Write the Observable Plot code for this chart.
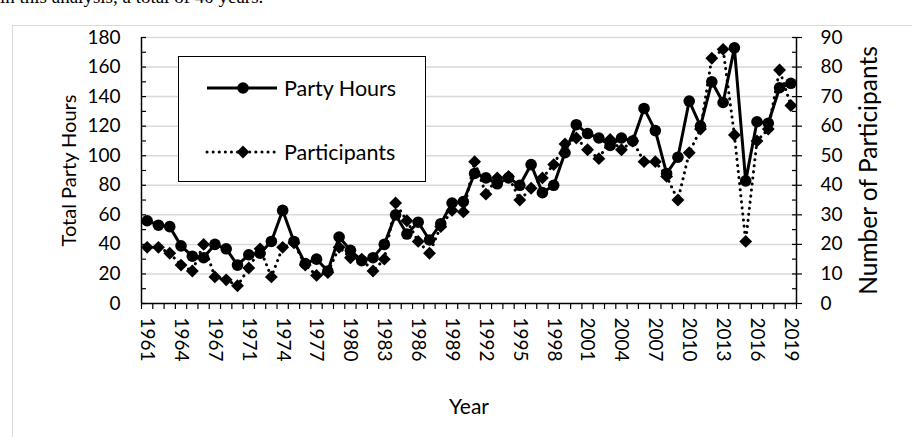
<!DOCTYPE html>
<html><head><meta charset="utf-8">
<script src="https://cdn.jsdelivr.net/npm/d3@7"></script>
<script src="https://cdn.jsdelivr.net/npm/@observablehq/plot@0.6"></script>
<style>
body{margin:0;background:#fff;width:912px;height:437px;overflow:hidden;position:relative;font-family:Lato,sans-serif;color:#000;}
#intro{position:absolute;left:0;top:-14px;font-family:"Liberation Serif",serif;font-size:19px;white-space:nowrap;color:#000;}
#frame{position:absolute;left:12px;top:25px;width:920px;height:440px;border:1.5px solid #d9d9d9;}
#chart{position:absolute;left:0;top:0;}
#legend{position:absolute;left:178px;top:56px;width:246px;height:124px;border:1.5px solid #000;background:#fff;}
#legend span{position:absolute;left:105px;font-size:21.5px;line-height:26px;white-space:nowrap;}
</style></head><body>
<div id="intro">in this analysis, a total of 40 years.</div>
<div id="frame"></div>
<div id="chart"></div>
<div id="legend">
  <svg width="110" height="124" style="position:absolute;left:0;top:0">
    <line x1="28" y1="31" x2="98" y2="31" stroke="#000" stroke-width="3"/>
    <circle cx="64" cy="31" r="5.8" fill="#000"/>
    <line x1="28" y1="95" x2="98" y2="95" stroke="#000" stroke-width="3" stroke-dasharray="0.1 6" stroke-linecap="round"/>
    <path d="M64,88.6L70.4,95L64,101.4L57.6,95Z" fill="#000"/>
  </svg>
  <span id="lg1" style="top:18px">Party Hours</span>
  <span id="lg2" style="top:82px">Participants</span>
</div>
<script>
const years = ["1961","1962","1963","1964","1965","1966","1967","1968","1970","1971","1972","1973","1974","1975","1976","1977","1978","1979","1980","1981","1982","1983","1984","1985","1986","1987","1988","1989","1990","1991","1992","1993","1994","1995","1996","1997","1998","1999","2000","2001","2002","2003","2004","2005","2006","2007","2008","2009","2010","2011","2012","2013","2014","2015","2016","2017","2018","2019"];
const partyHours = [56,53,52,39,32,31,40,37,26,33,34,42,63,42,27,30,22,45,36,29,31,40,60,47,55,43,54,68,69,88,85,81,85,80,94,75,80,102,121,115,112,107,112,110,132,117,88,99,137,120,150,136,173,83,123,122,146,149];
const participants = [19,19,17,13,11,20,9,8,6,12,18.5,9,19,20.5,13,9.5,10.5,19,15.5,15,11,15,34,28,21,17,26,31.5,31,48,37,42.5,43,35,39,42.5,47,54,56,52,49,55.5,52,55,48,48,43,35,51,59,83,86,57,21,55,59,79,67];
const leftTicks = [0,20,40,60,80,100,120,140,160,180];
const rightTicks = [0,10,20,30,40,50,60,70,80,90];
const ratio = 2; // left-axis units per participant

const data = years.map((year, i) => ({i, year, hours: partyHours[i], people: participants[i] * ratio}));
const n = years.length;
const labelIdx = d3.range(0, n, 3);
const bounds = d3.range(-0.5, n, 1);
const minorLeft = d3.range(10, 180, 20);

const chart = Plot.plot({
  width: 912, height: 437,
  marginLeft: 141, marginRight: 116, marginTop: 37, marginBottom: 134,
  style: {fontFamily: "Lato, sans-serif", fontSize: "19px", color: "#000", background: "transparent"},
  x: {type: "linear", domain: [-0.5, n - 0.5]},
  y: {domain: [0, 180]},
  marks: [
    Plot.gridY(leftTicks.filter(d => d > 0), {stroke: "#d9d9d9", strokeOpacity: 1, strokeWidth: 1.5}),
    // left axis: ticks inside, labels, title
    Plot.axisY(leftTicks.concat(minorLeft), {anchor: "left", tickSize: 5, dx: 5, tickFormat: () => "", label: null, strokeWidth: 1.2}),
    Plot.axisY(leftTicks, {anchor: "left", tickSize: 0, tickPadding: 21, fontSize: 19, label: null}),
    Plot.axisY(leftTicks, {anchor: "left", tickSize: 0, tickFormat: () => "", fontSize: 20, label: "Total Party Hours", labelAnchor: "center", labelOffset: 80, labelArrow: "none"}),
    // right axis: major ticks cross, minor inside
    Plot.axisY(leftTicks, {anchor: "right", tickSize: 10, dx: -5, tickFormat: () => "", label: null, strokeWidth: 1.2}),
    Plot.axisY(minorLeft, {anchor: "right", tickSize: 5, dx: -5, tickFormat: () => "", label: null, strokeWidth: 1.2}),
    Plot.axisY(rightTicks.map(d => d * ratio), {anchor: "right", tickSize: 0, tickPadding: 24, tickFormat: d => d / ratio, fontSize: 19, label: null}),
    Plot.axisY(rightTicks.map(d => d * ratio), {anchor: "right", tickSize: 0, tickFormat: () => "", fontSize: 24.5, label: "Number of Participants", labelAnchor: "center", labelOffset: 80, labelArrow: "none"}),
    // bottom axis
    Plot.axisX(bounds, {anchor: "bottom", tickSize: 6, tickFormat: () => "", label: null, strokeWidth: 1.2}),
    Plot.axisX(labelIdx, {anchor: "bottom", tickSize: 0, tickPadding: 14, tickRotate: 90, tickFormat: i => years[i], fontSize: 19, label: null}),
    Plot.axisX(labelIdx, {anchor: "bottom", tickSize: 0, tickFormat: () => "", fontSize: 21, label: "Year", labelAnchor: "center", labelOffset: 110, labelArrow: "none"}),
    Plot.ruleY([0], {stroke: "#000", strokeWidth: 1.5}),
    Plot.ruleX([-0.5, n - 0.5], {stroke: "#000", strokeWidth: 1.5}),
    // series
    Plot.line(data, {x: "i", y: "people", stroke: "#000", strokeWidth: 3, strokeDasharray: "0.1 6", strokeLinecap: "round"}),
    Plot.dot(data, {x: "i", y: "people", symbol: "diamond2", r: 5.8, fill: "#000", stroke: "none"}),
    Plot.line(data, {x: "i", y: "hours", stroke: "#000", strokeWidth: 3}),
    Plot.dot(data, {x: "i", y: "hours", r: 5.8, fill: "#000", stroke: "none"})
  ]
});
document.getElementById("chart").appendChild(chart);
</script>
</body></html>
